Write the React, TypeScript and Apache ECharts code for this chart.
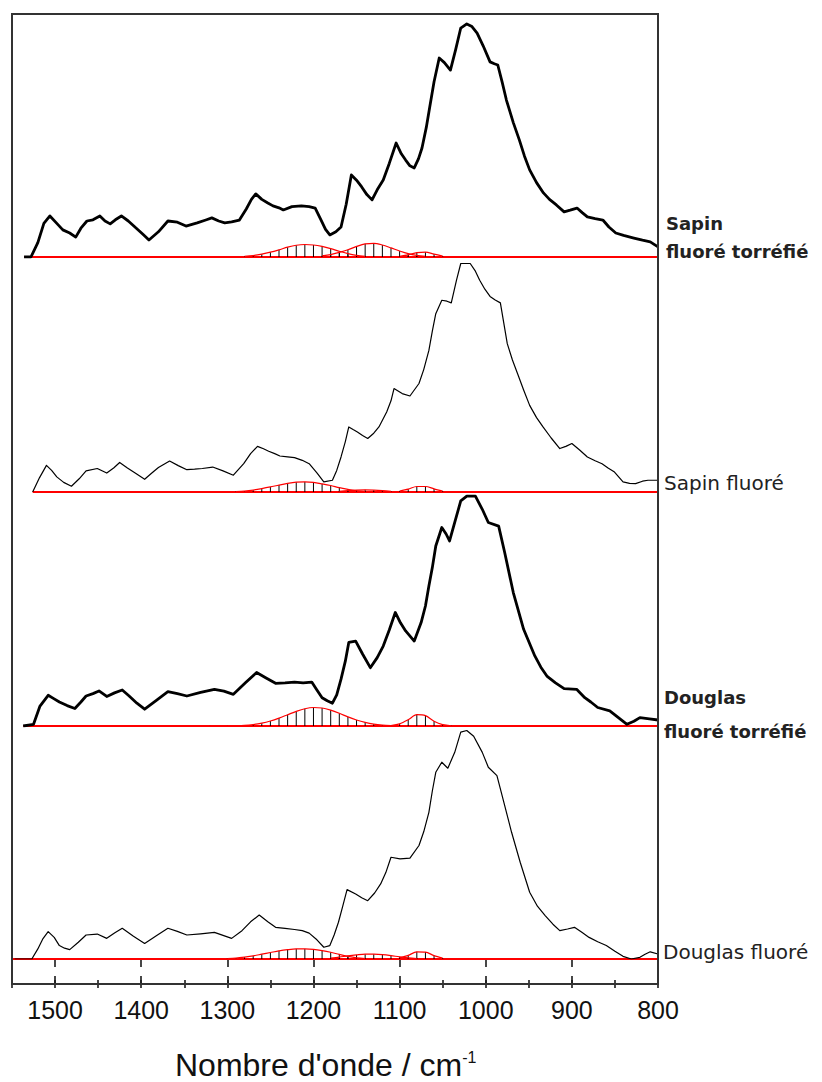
import React, { useEffect, useRef } from "react";
import * as echarts from "echarts";

// ---- data (wavenumber cm-1, relative intensity) ----
const sapinTorrefie: number[][] = [
  [1536,0],[1528,0],[1520,6],[1513,14],[1506,17.1],[1498,14],[1491,11.3],[1483,10],[1476,8.3],[1470,12],[1463,15],[1456,15.5],[1448,17.1],[1442,15],[1436,13.8],[1430,15.5],[1423,17.1],[1415,15],[1406,12.1],[1398,9.5],[1391,7.1],[1380,10.5],[1369,15],[1358,14.5],[1348,12.9],[1335,14.2],[1325,15.4],[1318,16.3],[1310,15],[1303,14.2],[1295,14.6],[1286,15.4],[1278,20],[1272,24],[1267,26.3],[1260,24],[1253,22.5],[1247,21.3],[1240,20.5],[1235,19.6],[1225,21],[1214,21.3],[1205,21],[1198,20.4],[1192,16],[1186,11.5],[1181,9.2],[1174,10.5],[1168,12.5],[1162,22],[1156,34.2],[1150,32],[1144,29.2],[1138,26],[1132,23.8],[1126,28],[1119,32.1],[1112,39],[1104,47.5],[1098,43],[1093,40.4],[1088,38],[1083,37.1],[1078,41],[1074,45.4],[1069,54],[1065,62.5],[1060,73],[1054,82.9],[1048,81],[1041,77.9],[1035,86.3],[1029,95.4],[1022,97.1],[1016,96],[1010,93.3],[1003,88],[995,81.3],[990,80.5],[986,80],[981,73],[976,65.4],[968,56],[961,48.8],[955,42],[949,36.3],[941,31],[933,26.7],[926,24],[918,21.7],[909,18.8],[902,19.5],[894,20.4],[888,18.5],[882,16.7],[873,16],[864,15.4],[857,12.5],[849,10],[840,9],[828,7.9],[818,7],[809,6.3],[800,4.2]
];
const sapinFluore: number[][] = [
  [1526,0],[1518,6],[1510,11.1],[1504,9],[1498,6.3],[1490,4],[1481,2.4],[1472,5.5],[1464,8.8],[1451,9.8],[1440,7.9],[1432,10],[1425,12.3],[1416,10],[1407,7.9],[1396,5.3],[1388,7.8],[1380,10.2],[1367,12.9],[1357,11],[1347,9.3],[1338,9.5],[1329,9.8],[1317,10.4],[1305,8.8],[1293,7],[1281,11.8],[1273,16],[1265,19],[1258,18],[1252,17],[1245,16],[1239,15],[1230,14.6],[1222,14.3],[1213,13.2],[1205,11.8],[1196,8],[1188,4.2],[1178,4.9],[1173,9],[1168,14.6],[1163,21],[1159,27.1],[1154,26],[1149,25],[1143,23.5],[1137,22.3],[1130,24.5],[1124,27.1],[1115,33.3],[1110,38],[1106.5,43.1],[1097,41],[1088,40],[1077.5,45.2],[1072,51],[1066,59],[1062,67],[1058,74.3],[1051,79.9],[1045,79.5],[1040,78.8],[1034,88.2],[1029,95.2],[1018,95.2],[1012,92],[1007,88.2],[1001,84.5],[995,81.5],[989,80],[983,78.8],[975,61.8],[969,55],[963,49.3],[956,42.5],[949,36.1],[941,31],[933.5,27.1],[924,22.5],[914,18.1],[907,19],[900,20.2],[891,17.5],[882,14.6],[873,13],[865,11.8],[858,10],[850.5,8.3],[840.6,4.2],[833,3.6],[826,3.5],[818,4.5],[811.6,4.9],[800,4.9]
];
const douglasTorrefie: number[][] = [
  [1537,0],[1525,0.7],[1517.5,8.3],[1508,12.8],[1502,11.5],[1495,10],[1486,8.5],[1477,7.3],[1470,10],[1464,12.5],[1456,13.5],[1449,14.6],[1440,12.3],[1431,13.8],[1422,15],[1414,12.5],[1405,9.5],[1396,7],[1382,10.8],[1369,14.3],[1358,13.5],[1347,12.5],[1331,14],[1315,15.3],[1304,14.5],[1293,13.2],[1279,18],[1266,22.3],[1255,20],[1244,17.8],[1233,18],[1222,18.3],[1212,18],[1202,18.3],[1196,15],[1190,11.8],[1184,10.5],[1178,9.5],[1173,13],[1168,19.5],[1163,27],[1159,34.8],[1151,35.4],[1143,30],[1134,24.3],[1126,28.5],[1119,33.3],[1112,40],[1105,47.3],[1099,43],[1093,39.6],[1083,35.4],[1075,43.1],[1070,50],[1066,58.3],[1062,66],[1058,75],[1051,82.7],[1046,80],[1042,77.1],[1036,84.8],[1029,93.8],[1022,95.8],[1012,95.8],[1004,90.3],[997,84.8],[985,83.3],[978,72.3],[968,55.6],[956,40.3],[943,29.2],[936,24.5],[929,20.8],[919,18],[909,15.6],[894.5,15.3],[885,11.8],[878,10],[870,7.7],[856,6.3],[846,3.5],[836,0.7],[828,2],[821,3.5],[810,3],[800,2.5]
];
const douglasFluore: number[][] = [
  [1547,0],[1527,0],[1520,4.2],[1514,8.5],[1508,11.4],[1501,9],[1495,5.6],[1489,4.5],[1483,3.9],[1473,7],[1464,10],[1451,10.4],[1440,8.6],[1431,10.8],[1422,12.8],[1409,9.5],[1396,6.5],[1382,9.8],[1369,12.8],[1358,11.5],[1347,10],[1331,10.5],[1315,11.1],[1295,8.6],[1283,11.8],[1273,15.5],[1263,18.3],[1253,15.5],[1244,13.2],[1233,12.8],[1222,12.3],[1213,11.8],[1205,10.8],[1196,8],[1188,4.9],[1181,5.6],[1176,10],[1171,15.3],[1166,22],[1161,28.9],[1151,27.1],[1144,25.5],[1137,24.3],[1129,27.5],[1122,31.3],[1116,36],[1110,42.4],[1099.5,41.7],[1088,42],[1077.5,47.3],[1072,53],[1066,61.1],[1062,70],[1058,77.8],[1051,82],[1044,79.5],[1036,86.1],[1029,94.5],[1022,95.2],[1014,92.8],[1004,86.1],[997,79.9],[987,76.4],[980,66.7],[970,52.8],[960,40.3],[949,27.8],[940,22],[931,18.1],[922,14.5],[914,11.8],[905,12.5],[897,13.2],[888,11],[880,9],[870,7.2],[860,5.6],[850,3.2],[840.6,1.1],[831,0],[821,0.7],[815,2],[809,3],[800,2.1]
];

// fitted component bands (red, hatched)
const sapinTorrefieBandA: number[][] = [[1280,0.3],[1270,0.6],[1260,1.2],[1250,2.0],[1240,3.0],[1230,4.1],[1220,4.9],[1210,5.2],[1200,5.0],[1190,4.4],[1180,3.5],[1170,2.4],[1160,1.4],[1150,0.7],[1140,0.3]];
const sapinTorrefieBandB: number[][] = [[1190,0.5],[1180,1.0],[1170,1.9],[1160,3.0],[1150,4.4],[1140,5.5],[1130,5.7],[1120,5.0],[1110,3.8],[1100,2.5],[1090,1.4],[1080,0.7],[1070,0.3]];
const sapinTorrefieBandC: number[][] = [[1100,0.3],[1090,0.9],[1080,1.8],[1070,2.0],[1060,1.2],[1050,0.4]];
const sapinFluoreBandA: number[][] = [[1290,0.2],[1280,0.4],[1270,0.8],[1260,1.4],[1250,2.1],[1240,2.9],[1230,3.6],[1220,4.1],[1210,4.2],[1200,4.0],[1190,3.4],[1180,2.7],[1170,1.8],[1160,1.1],[1150,0.5],[1140,0.2]];
const sapinFluoreBandB: number[][] = [[1170,0.3],[1160,0.6],[1150,0.8],[1140,0.9],[1130,0.8],[1120,0.6],[1110,0.3]];
const sapinFluoreBandC: number[][] = [[1100,0.4],[1090,1.2],[1080,2.3],[1070,2.3],[1060,1.3],[1050,0.4]];
const douglasTorrefieBandA: number[][] = [[1320,0.05],[1300,0.1],[1280,0.3],[1270,0.6],[1260,1.2],[1250,2.1],[1240,3.3],[1230,4.7],[1220,6.1],[1210,7.2],[1200,7.7],[1190,7.5],[1180,6.6],[1170,5.3],[1160,3.8],[1150,2.5],[1140,1.5],[1130,0.8],[1120,0.4],[1110,0.2]];
const douglasTorrefieBandB: number[][] = [[1110,0.2],[1100,0.9],[1090,2.6],[1080,4.7],[1070,4.3],[1060,2.0],[1050,0.6],[1040,0.1]];
const douglasFluoreBandA: number[][] = [[1300,0.2],[1290,0.4],[1280,0.8],[1270,1.3],[1260,2.0],[1250,2.7],[1240,3.4],[1230,3.9],[1220,4.2],[1210,4.2],[1200,4.0],[1190,3.5],[1180,2.8],[1170,1.9],[1160,1.1],[1150,0.5],[1140,0.2]];
const douglasFluoreBandB: number[][] = [[1180,0.4],[1170,0.8],[1160,1.3],[1150,1.7],[1140,2.0],[1130,2.0],[1120,1.8],[1110,1.4],[1100,0.9],[1090,0.5],[1080,0.2]];
const douglasFluoreBandC: number[][] = [[1100,0.5],[1090,1.5],[1080,3.0],[1070,2.9],[1060,1.4],[1050,0.4]];

// red zero lines (start wavenumber -> 800)
const baselineSapinTorrefie: number[][] = [[1536,0],[800,0]];
const baselineSapinFluore: number[][] = [[1526,0],[800,0]];
const baselineDouglasTorrefie: number[][] = [[1537,0],[800,0]];
const baselineDouglasFluore: number[][] = [[1550,0],[800,0]];

const xTicksMajor = [1500, 1400, 1300, 1200, 1100, 1000, 900, 800];
const X_MIN = 800;
const X_MAX = 1550;

const panels = [
  { spectrum: sapinTorrefie, bands: [sapinTorrefieBandA, sapinTorrefieBandB, sapinTorrefieBandC], base: baselineSapinTorrefie, thick: true },
  { spectrum: sapinFluore, bands: [sapinFluoreBandA, sapinFluoreBandB, sapinFluoreBandC], base: baselineSapinFluore, thick: false },
  { spectrum: douglasTorrefie, bands: [douglasTorrefieBandA, douglasTorrefieBandB], base: baselineDouglasTorrefie, thick: true },
  { spectrum: douglasFluore, bands: [douglasFluoreBandA, douglasFluoreBandB, douglasFluoreBandC], base: baselineDouglasFluore, thick: false },
];

// layout
const FRAME = { left: 12, top: 14, right: 658, bottom: 984 };
const BASELINES_PX = [257, 492, 726, 959];
const PANEL_H = 240;

const tickFont = "'Liberation Sans', Arial, sans-serif";

function buildOption() {
  const grid = BASELINES_PX.map((b) => ({
    left: FRAME.left,
    width: FRAME.right - FRAME.left,
    top: b - PANEL_H,
    height: PANEL_H,
  }));
  const baseX = (i: number) => ({
    type: "value",
    gridIndex: i,
    min: X_MIN,
    max: X_MAX,
    inverse: true,
    show: false,
  });
  const xAxis: any[] = [0, 1, 2].map(baseX);
  const offset = FRAME.bottom - BASELINES_PX[3];
  const tickColor = "#1a1a1a";
  // main labelled axis (ticks outward)
  xAxis.push({
    type: "value", gridIndex: 3, min: X_MIN, max: X_MAX, inverse: true, interval: 100,
    position: "bottom", offset,
    axisLine: { show: false },
    axisTick: { show: true, inside: false, length: 8, lineStyle: { color: tickColor, width: 1.6 } },
    axisLabel: {
      show: true, margin: 13, fontSize: 25, color: "#111", fontFamily: tickFont,
      showMaxLabel: false,
      formatter: (v: number) => (xTicksMajor.includes(v) ? String(v) : ""),
    },
    splitLine: { show: false },
  });
  // major ticks inward
  xAxis.push({
    type: "value", gridIndex: 3, min: X_MIN, max: X_MAX, inverse: true, interval: 100,
    position: "bottom", offset,
    axisLine: { show: false },
    axisTick: { show: true, inside: true, length: 8, lineStyle: { color: tickColor, width: 1.6 } },
    axisLabel: { show: false }, splitLine: { show: false },
  });
  // minor ticks both sides
  [false, true].forEach((inside) =>
    xAxis.push({
      type: "value", gridIndex: 3, min: X_MIN, max: X_MAX, inverse: true, interval: 50,
      position: "bottom", offset,
      axisLine: { show: false },
      axisTick: { show: true, inside, length: 4, lineStyle: { color: tickColor, width: 1.6 } },
      axisLabel: { show: false }, splitLine: { show: false },
    })
  );
  const yAxis = BASELINES_PX.map((_, i) => ({ type: "value", gridIndex: i, min: 0, max: 100, show: false }));

  const series: any[] = [];
  panels.forEach((p, i) => {
    series.push({
      type: "line", xAxisIndex: i, yAxisIndex: i, data: p.base, symbol: "none",
      lineStyle: { color: "#ff0000", width: 2 }, z: 2, silent: true,
    });
    p.bands.forEach((band) => {
      series.push({
        type: "custom", xAxisIndex: i, yAxisIndex: i, data: band, z: 3, silent: true,
        encode: { x: 0, y: 1 },
        renderItem: (_params: any, api: any) => {
          const w = api.value(0);
          const v = api.value(1);
          const p0 = api.coord([w, 0]);
          const p1 = api.coord([w, v]);
          return {
            type: "line",
            shape: { x1: p0[0], y1: p0[1], x2: p1[0], y2: p1[1] },
            style: { stroke: "#000", lineWidth: 1 },
          };
        },
      });
      series.push({
        type: "line", xAxisIndex: i, yAxisIndex: i, data: band, symbol: "none", smooth: 0.3,
        lineStyle: { color: "#ff0000", width: 1.2 }, z: 4, silent: true,
      });
    });
    series.push({
      type: "line", xAxisIndex: i, yAxisIndex: i, data: p.spectrum, symbol: "none",
      lineStyle: { color: "#000", width: p.thick ? 2.8 : 1.2, join: "round" }, z: 5, silent: true,
    });
  });

  const labelFont = "'DejaVu Sans', 'Liberation Sans', sans-serif";
  const graphic: any[] = [
    {
      type: "rect", z: 10, silent: true,
      shape: { x: FRAME.left, y: FRAME.top, width: FRAME.right - FRAME.left, height: FRAME.bottom - FRAME.top },
      style: { fill: "none", stroke: "#333", lineWidth: 2 },
    },
    { type: "text", x: 666, y: 223, style: { text: "Sapin", fontSize: 18, fontWeight: "bold", fontFamily: labelFont, fill: "#222", verticalAlign: "middle" } },
    { type: "text", x: 666, y: 251, style: { text: "fluoré torréfié", fontSize: 18, fontWeight: "bold", fontFamily: labelFont, fill: "#222", verticalAlign: "middle" } },
    { type: "text", x: 664, y: 483, style: { text: "Sapin fluoré", fontSize: 20, fontFamily: labelFont, fill: "#222", verticalAlign: "middle" } },
    { type: "text", x: 664, y: 697, style: { text: "Douglas", fontSize: 18, fontWeight: "bold", fontFamily: labelFont, fill: "#222", verticalAlign: "middle" } },
    { type: "text", x: 664, y: 731, style: { text: "fluoré torréfié", fontSize: 18, fontWeight: "bold", fontFamily: labelFont, fill: "#222", verticalAlign: "middle" } },
    { type: "text", x: 663, y: 952, style: { text: "Douglas fluoré", fontSize: 20, fontFamily: labelFont, fill: "#222", verticalAlign: "middle" } },
    {
      type: "text", x: 175, y: 1049,
      style: {
        text: "{a|Nombre d'onde / cm}{b|-1}",
        verticalAlign: "top",
        rich: {
          a: { fontSize: 32, fontFamily: "'Liberation Sans', Arial, sans-serif", fill: "#111" },
          b: { fontSize: 16, fontFamily: "'Liberation Sans', Arial, sans-serif", fill: "#111", verticalAlign: "top" },
        },
      },
    },
  ];

  return { animation: false, backgroundColor: "#fff", grid, xAxis, yAxis, series, graphic };
}

export default function App() {
  const ref = useRef<HTMLDivElement>(null);
  useEffect(() => {
    if (!ref.current) return;
    const chart = echarts.init(ref.current, null, { renderer: "svg" });
    chart.setOption(buildOption() as any);
    return () => chart.dispose();
  }, []);
  return (
    <div
      ref={ref}
      style={{ position: "fixed", left: 0, top: 0, width: 822, height: 1082, background: "#fff" }}
    />
  );
}
